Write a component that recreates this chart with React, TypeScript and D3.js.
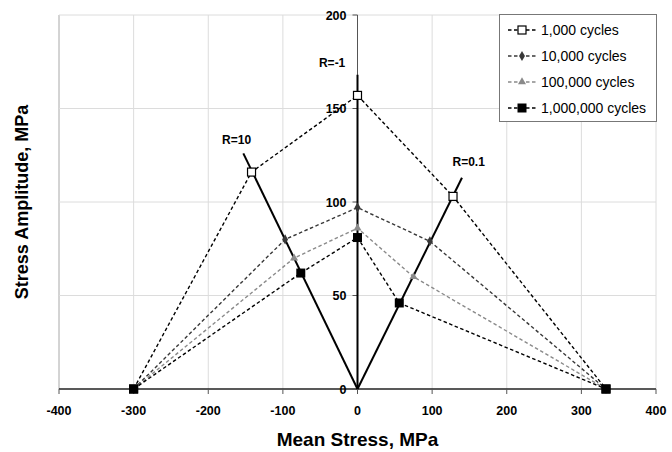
import React, { useEffect, useRef } from "react";
import * as d3 from "d3";

// series: mean stress (MPa) / stress amplitude (MPa)
const seriesNames = ["1,000 cycles", "10,000 cycles", "100,000 cycles", "1,000,000 cycles"];
const mean1k = [-300, -142, 0, 128, 333];
const amp1k = [0, 116, 157, 103, 0];
const mean10k = [-300, -97, 0, 97, 333];
const amp10k = [0, 80, 97, 79, 0];
const mean100k = [-300, -85, 0, 75, 333];
const amp100k = [0, 70, 86, 60, 0];
const mean1M = [-300, -76, 0, 56, 333];
const amp1M = [0, 62, 81, 46, 0];

// R-ratio lines from origin to these ends
const rLabels = ["R=10", "R=-1", "R=0.1"];
const rEndMean = [-153, 0, 140];
const rEndAmp = [126, 168, 113];

const xTicks = [-400, -300, -200, -100, 0, 100, 200, 300, 400];
const yTicks = [0, 50, 100, 150, 200];

const styles = [
  { color: "#000", marker: "openSquare" },
  { color: "#383838", marker: "diamond" },
  { color: "#8a8a8a", marker: "triangle" },
  { color: "#000", marker: "square" },
];

const drawMarker = (g, kind, color, cx, cy) => {
  if (kind === "openSquare") {
    g.append("rect").attr("x", cx - 4).attr("y", cy - 4).attr("width", 8).attr("height", 8)
      .attr("fill", "#fff").attr("stroke", color).attr("stroke-width", 1.2);
  } else if (kind === "square") {
    g.append("rect").attr("x", cx - 4.5).attr("y", cy - 4.5).attr("width", 9).attr("height", 9)
      .attr("fill", color);
  } else if (kind === "diamond") {
    g.append("path").attr("d", d3.symbol(d3.symbolDiamond, 30)()).attr("transform", `translate(${cx},${cy})`)
      .attr("fill", color);
  } else {
    g.append("path").attr("d", d3.symbol(d3.symbolTriangle, 28)()).attr("transform", `translate(${cx},${cy})`)
      .attr("fill", color);
  }
};

export default function App() {
  const ref = useRef(null);
  useEffect(() => {
    const width = 672, height = 452;
    const svg = d3.select(ref.current);
    svg.selectAll("*").remove();
    svg.attr("width", width).attr("height", height);

    const x = d3.scaleLinear().domain([-400, 400]).range([59, 656]);
    const y = d3.scaleLinear().domain([0, 200]).range([389, 15]);
    const font = "Liberation Sans, Arial, sans-serif";

    svg.append("rect").attr("width", width).attr("height", height).attr("fill", "#fff");

    // grid
    const grid = svg.append("g");
    xTicks.filter((t) => t !== 0).forEach((t) => {
      grid.append("line").attr("x1", x(t)).attr("x2", x(t)).attr("y1", y(200)).attr("y2", y(0))
        .attr("stroke", t === -400 ? "#a8a8a8" : "#dcdcdc").attr("stroke-width", 1);
    });
    yTicks.filter((t) => t !== 0).forEach((t) => {
      grid.append("line").attr("x1", x(-400)).attr("x2", x(400)).attr("y1", y(t)).attr("y2", y(t))
        .attr("stroke", "#dcdcdc").attr("stroke-width", 1);
    });

    // axes
    const ax = svg.append("g");
    ax.append("line").attr("x1", x(0)).attr("x2", x(0)).attr("y1", y(200)).attr("y2", y(0))
      .attr("stroke", "#555").attr("stroke-width", 1);
    ax.append("line").attr("x1", x(-400)).attr("x2", x(400)).attr("y1", y(0)).attr("y2", y(0))
      .attr("stroke", "#222").attr("stroke-width", 1.5);
    xTicks.forEach((t) => {
      ax.append("line").attr("x1", x(t)).attr("x2", x(t)).attr("y1", y(0)).attr("y2", y(0) + 5)
        .attr("stroke", "#555");
      ax.append("text").attr("x", x(t)).attr("y", 415).attr("text-anchor", "middle")
        .attr("font-family", font).attr("font-weight", "bold").attr("font-size", 12.5)
        .text(t);
    });
    yTicks.forEach((t) => {
      ax.append("line").attr("x1", x(0) - 5).attr("x2", x(0)).attr("y1", y(t)).attr("y2", y(t))
        .attr("stroke", "#555");
      ax.append("text").attr("x", x(0) - 11).attr("y", y(t) + 4.5).attr("text-anchor", "end")
        .attr("font-family", font).attr("font-weight", "bold").attr("font-size", 12.5)
        .text(t);
    });

    // R lines
    rLabels.forEach((lab, i) => {
      svg.append("line").attr("x1", x(0)).attr("y1", y(0)).attr("x2", x(rEndMean[i])).attr("y2", y(rEndAmp[i]))
        .attr("stroke", "#000").attr("stroke-width", 2);
    });
    const labelPos = [[-162, 131], [-34, 172], [149, 119]];
    rLabels.forEach((lab, i) => {
      svg.append("text").attr("x", x(labelPos[i][0])).attr("y", y(labelPos[i][1]))
        .attr("text-anchor", "middle").attr("font-family", font).attr("font-weight", "bold")
        .attr("font-size", 12).text(lab);
    });

    // series
    const all = [
      [mean1k, amp1k], [mean10k, amp10k], [mean100k, amp100k], [mean1M, amp1M],
    ];
    const line = d3.line().x((d) => x(d[0])).y((d) => y(d[1]));
    all.forEach(([m, a], i) => {
      const pts = m.map((v, j) => [v, a[j]]);
      svg.append("path").attr("d", line(pts)).attr("fill", "none")
        .attr("stroke", styles[i].color).attr("stroke-width", 1.4).attr("stroke-dasharray", "3.5,2.5");
    });
    all.forEach(([m, a], i) => {
      const g = svg.append("g");
      m.forEach((v, j) => drawMarker(g, styles[i].marker, styles[i].color, x(v), y(a[j])));
    });

    // legend
    const lg = svg.append("g");
    lg.append("rect").attr("x", 499.5).attr("y", 14.5).attr("width", 157).attr("height", 107)
      .attr("fill", "#fff").attr("stroke", "#777").attr("stroke-width", 1);
    seriesNames.forEach((name, i) => {
      const ly = 30 + i * 26;
      lg.append("line").attr("x1", 508).attr("x2", 536).attr("y1", ly).attr("y2", ly)
        .attr("stroke", styles[i].color).attr("stroke-width", 1.4).attr("stroke-dasharray", "3.5,2.5");
      drawMarker(lg, styles[i].marker, styles[i].color, 522, ly);
      lg.append("text").attr("x", 541).attr("y", ly + 5).attr("font-family", font)
        .attr("font-size", 14).text(name);
    });

    // titles
    svg.append("text").attr("x", x(0)).attr("y", 446).attr("text-anchor", "middle")
      .attr("font-family", font).attr("font-weight", "bold").attr("font-size", 19)
      .text("Mean Stress, MPa");
    svg.append("text").attr("transform", `translate(28,${y(100)}) rotate(-90)`).attr("text-anchor", "middle")
      .attr("font-family", font).attr("font-weight", "bold").attr("font-size", 18)
      .text("Stress Amplitude, MPa");
  });

  return <svg ref={ref} style={{ position: "absolute", left: 0, top: 0 }}></svg>;
}
